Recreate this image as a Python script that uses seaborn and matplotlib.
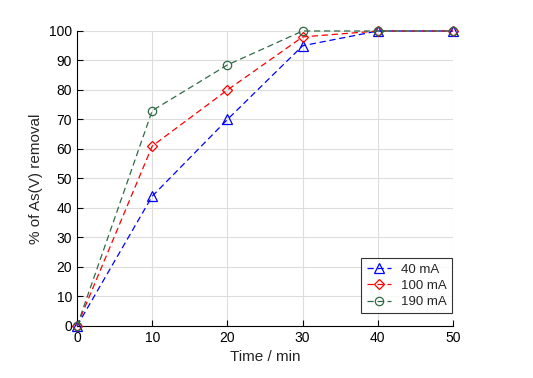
import numpy as np
import pandas as pd
import seaborn as sns
import matplotlib.pyplot as plt

time_min = [0, 10, 20, 30, 40, 50]
removal_40 = [0, 44, 70, 95, 100, 100]
removal_100 = [0, 61, 80, 98, 100, 100]
removal_190 = [0, 73, 88.5, 100, 100, 100]
labels = ["40 mA", "100 mA", "190 mA"]

df = pd.DataFrame({
    "time": time_min * 3,
    "removal": removal_40 + removal_100 + removal_190,
    "current": np.repeat(labels, len(time_min)),
})

sns.set_style("white")
plt.rcParams["font.family"] = ["Liberation Sans", "DejaVu Sans"]

fig = plt.figure(figsize=(5.33, 3.78), dpi=100)
ax = fig.add_axes([0.1445, 0.1376, 0.7055, 0.7804])

palette = {"40 mA": "#0000ff", "100 mA": "#ff0000", "190 mA": "#2f6b47"}
markers = {"40 mA": "^", "100 mA": "D", "190 mA": "o"}
msize = {"40 mA": 7, "100 mA": 5.5, "190 mA": 6}

for lab in labels:
    sub = df[df["current"] == lab]
    sns.lineplot(data=sub, x="time", y="removal", ax=ax, color=palette[lab],
                 linestyle=(0, (5, 3)), linewidth=0.9, marker=markers[lab],
                 markersize=msize[lab], markerfacecolor="none",
                 markeredgecolor=palette[lab], markeredgewidth=0.9, label=lab,
                 clip_on=False, zorder=3)

ax.set_xlim(0, 50)
ax.set_ylim(0, 100)
ax.set_xticks(range(0, 51, 10))
ax.set_yticks(range(0, 101, 10))
ax.grid(True, color="#dddddd", linewidth=0.8)
ax.set_axisbelow(True)
for s in ["top", "right"]:
    ax.spines[s].set_visible(False)
for s in ["left", "bottom"]:
    ax.spines[s].set_color("black")
    ax.spines[s].set_linewidth(0.8)
ax.tick_params(axis="both", direction="in", length=4, width=0.8, labelsize=10,
               left=True, bottom=True, colors="black")
ax.set_xlabel("Time / min", fontsize=11)
ax.set_ylabel("% of As(V) removal", fontsize=11)

leg = ax.legend(loc="lower right", fontsize=9.5, frameon=True, fancybox=False,
                edgecolor="black", handlelength=1.8, borderpad=0.4,
                labelspacing=0.3, bbox_to_anchor=(1.015, 0.02))
leg.get_frame().set_linewidth(0.8)

fig.savefig("out.png", dpi=100)
